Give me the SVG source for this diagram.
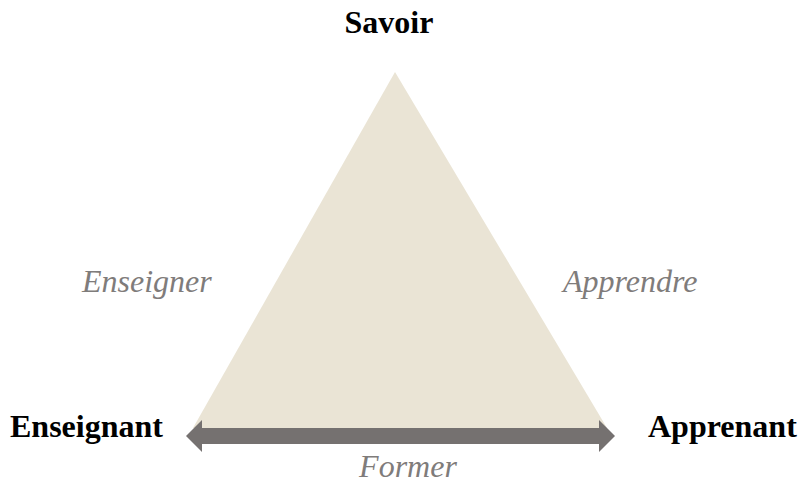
<svg xmlns="http://www.w3.org/2000/svg" width="800" height="483" viewBox="0 0 800 483">
<style>
.lbl{font-family:"Liberation Serif","Times New Roman",serif;font-weight:bold;font-size:32px;fill:#000}
.rel{font-family:"Liberation Serif","Times New Roman",serif;font-style:italic;font-size:32px;fill:#7f7c7b}
</style>
<rect width="800" height="483" fill="#fff"/>
<g id="triangle"><polygon points="395,72 193,428 607,428" fill="#EAE4D5"/></g>
<g id="connectors">
<polygon points="186,436 202,420 202,428 599,428 599,420 615,436 599,452 599,444 202,444 202,452" fill="#757170"/>
</g>
<g id="savoir"><text class="lbl" x="389" y="33" text-anchor="middle">Savoir</text></g>
<g id="enseignant"><text class="lbl" x="10" y="437">Enseignant</text></g>
<g id="apprenant"><text class="lbl" x="648" y="437">Apprenant</text></g>
<g id="enseigner"><text class="rel" x="82" y="292">Enseigner</text></g>
<g id="apprendre"><text class="rel" x="563" y="292">Apprendre</text></g>
<g id="former"><text class="rel" x="408" y="477" text-anchor="middle">Former</text></g>
</svg>
